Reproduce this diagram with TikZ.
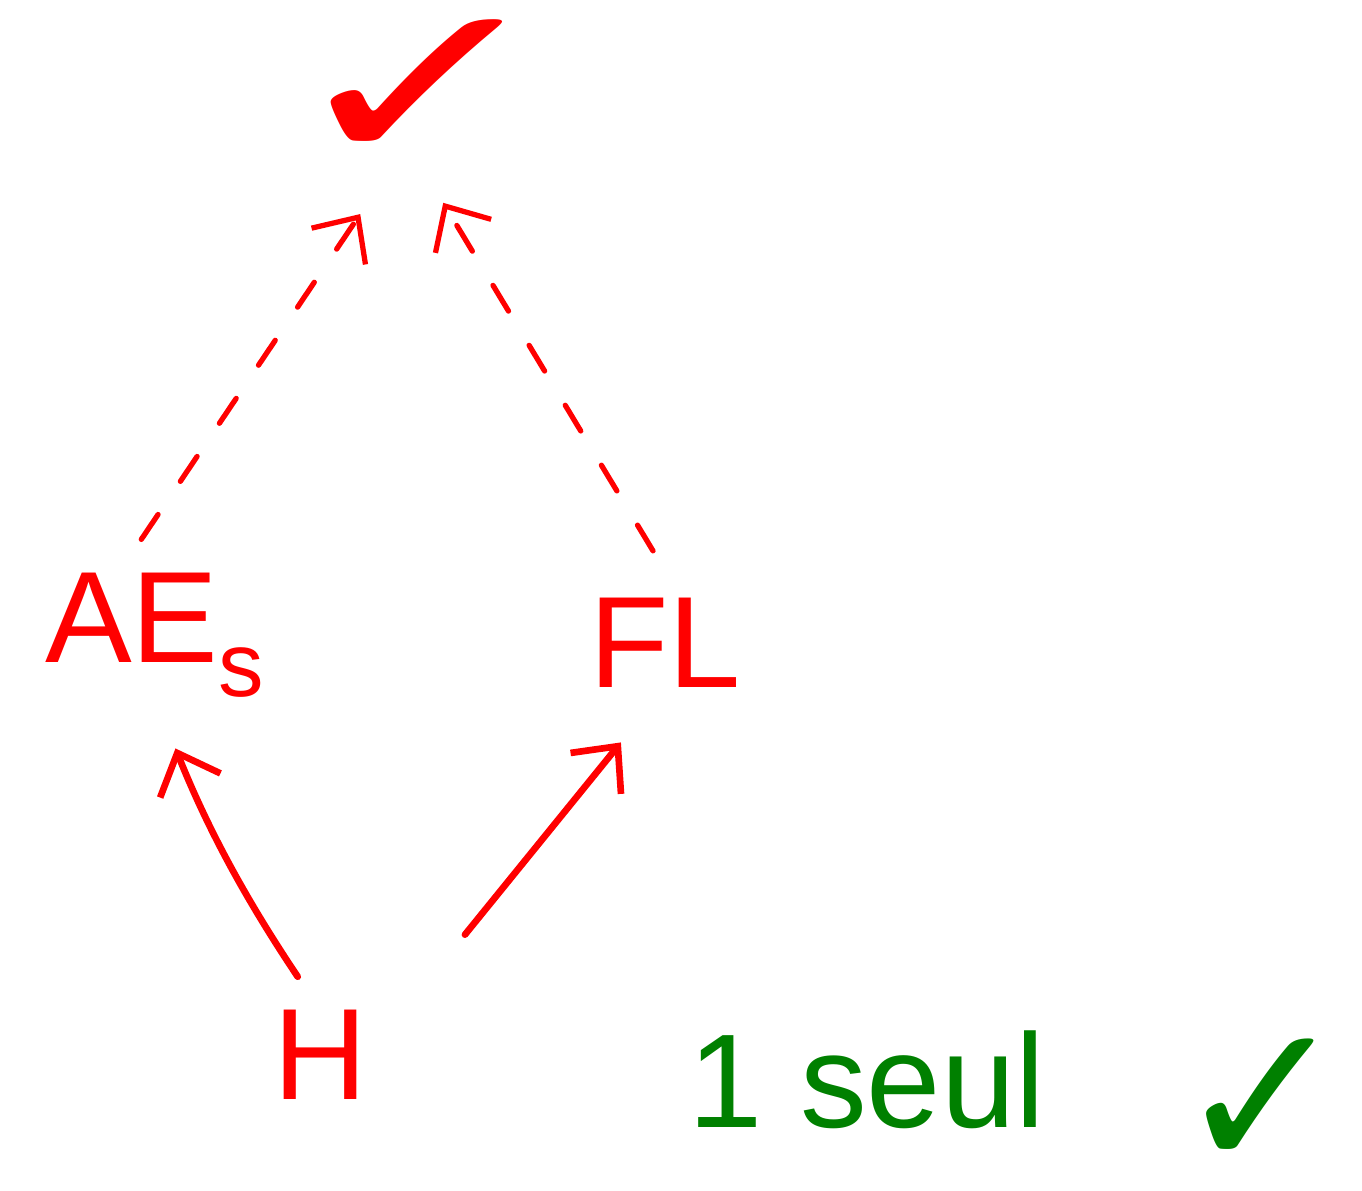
\documentclass[tikz,border=0pt]{standalone}
\usepackage{fontspec}
\setmainfont{Liberation Sans}
\newfontfamily\checkfont{DejaVu Sans}
\usetikzlibrary{arrows.meta}

\begin{document}
\begin{tikzpicture}[x=0.02cm, y=-0.02cm, >={Straight Barb[length=7mm, width=13mm]},
  lang/.style={text=red, inner sep=0pt, font=\fontsize{74}{74}\selectfont},
  ok/.style={inner sep=0pt, font=\checkfont\fontsize{130}{130}\selectfont},
  arr/.style={->, draw=red, line width=3.8pt, line cap=round},
  dasharr/.style={arr, line width=3pt, dash pattern=on 0.6cm off 0.8cm}]
\useasboundingbox (0,0) rectangle (1362,1190);
\node[ok, text=red] (top) at (420,92) {\scalebox{1.45}[1]{✓}};
\node[lang] (aes) at (155,635) {AE\textsubscript{s}};
\node[lang] (fl)  at (665,643) {FL};
\node[lang] (h)   at (320,1055) {H};
\node[text=green!50!black, inner sep=0pt, font=\fontsize{76}{76}\selectfont] (seul) at (867,1080) {1 seul};
\node[ok, text=green!50!black, font=\checkfont\fontsize{118}{118}\selectfont] (ok) at (1262,1104) {✓};
\draw[arr, shorten <=0.8cm, shorten >=1.1cm] (h.north) to[bend left=6] (aes.south);
\draw[arr, shorten <=3.1cm, shorten >=1.4cm] (h.east) -- (fl.south);
\draw[dasharr, shorten <=0.8cm, shorten >=1.2cm] (aes.120) -- (top.250);
\draw[dasharr, shorten <=1.1cm, shorten >=0.9cm] (fl.70) -- (top.south);
\end{tikzpicture}
\end{document}
